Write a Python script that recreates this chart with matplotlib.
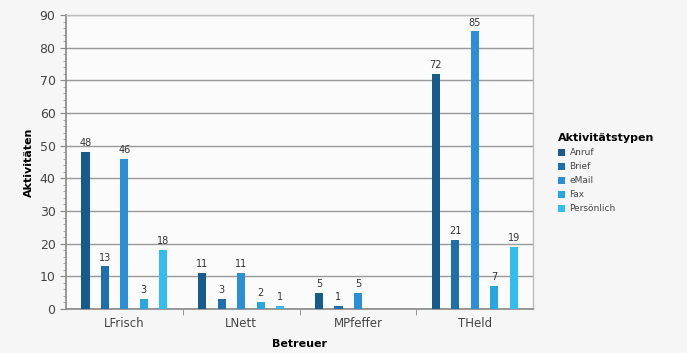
import matplotlib
matplotlib.use("Agg")
import matplotlib.pyplot as plt
import numpy as np
from matplotlib.ticker import MultipleLocator, FixedLocator
from matplotlib.patches import Patch

betreuer = ["LFrisch", "LNett", "MPfeffer", "THeld"]
typen = ["Anruf", "Brief", "eMail", "Fax", "Persönlich"]
anruf = [48, 11, 5, 72]
brief = [13, 3, 1, 21]
email = [46, 11, 5, 85]
fax = [3, 2, 0, 7]
persoenlich = [18, 1, 0, 19]
series = [anruf, brief, email, fax, persoenlich]
colors = ["#175a8c", "#1d6fae", "#2a8fd6", "#27a6e2", "#33bdee"]

fig = plt.figure(figsize=(6.87, 3.53), dpi=100)
fig.patch.set_facecolor("#f6f6f6")
ax = fig.add_axes([0.096, 0.125, 0.68, 0.832])
ax.set_facecolor("#fbfbfb")

x = np.arange(len(betreuer))
step = 1 / 6
width = 0.07
for i, (vals, col) in enumerate(zip(series, colors)):
    pos = x + (i - 2) * step
    ax.bar(pos, vals, width=width, color=col, zorder=3)
    for p, v in zip(pos, vals):
        if v > 0:
            ax.text(p, v + 1.2, str(v), ha="center", va="bottom",
                    fontsize=7, color="#333333", zorder=4)

ax.set_xlim(-0.5, 3.5)
ax.set_ylim(0, 90)
ax.yaxis.set_major_locator(MultipleLocator(10))
ax.yaxis.set_minor_locator(MultipleLocator(2))
ax.set_xticks(x)
ax.set_xticklabels(betreuer, fontsize=8.5, color="#444444")
ax.xaxis.set_minor_locator(FixedLocator([0.5, 1.5, 2.5]))
ax.tick_params(axis="x", which="major", length=0, pad=6)
ax.tick_params(axis="x", which="minor", length=4, color="#888888")
ax.tick_params(axis="y", which="major", length=4, color="#888888",
               labelsize=9, labelcolor="#444444")
ax.tick_params(axis="y", which="minor", length=2, color="#999999")
ax.grid(axis="y", which="major", color="#999999", linewidth=1, zorder=0)

for s in ["left", "bottom"]:
    ax.spines[s].set_color("#888888")
    ax.spines[s].set_linewidth(1.2)
for s in ["top", "right"]:
    ax.spines[s].set_color("#bbbbbb")
    ax.spines[s].set_linewidth(1)

ax.set_ylabel("Aktivitäten", fontsize=8, fontweight="bold", labelpad=4)
ax.set_xlabel("Betreuer", fontsize=8, fontweight="bold", labelpad=6)

handles = [Patch(facecolor=c, label=t) for c, t in zip(colors, typen)]
leg = fig.legend(handles=handles, loc="upper left", bbox_to_anchor=(0.800, 0.645),
                 frameon=False, fontsize=6.5, title="Aktivitätstypen",
                 title_fontproperties={"weight": "bold", "size": 8},
                 handlelength=0.8, handleheight=0.8, handletextpad=0.5,
                 labelspacing=0.55, alignment="left")
for t in leg.get_texts():
    t.set_color("#444444")

fig.savefig("out.png", dpi=100, facecolor=fig.get_facecolor())
